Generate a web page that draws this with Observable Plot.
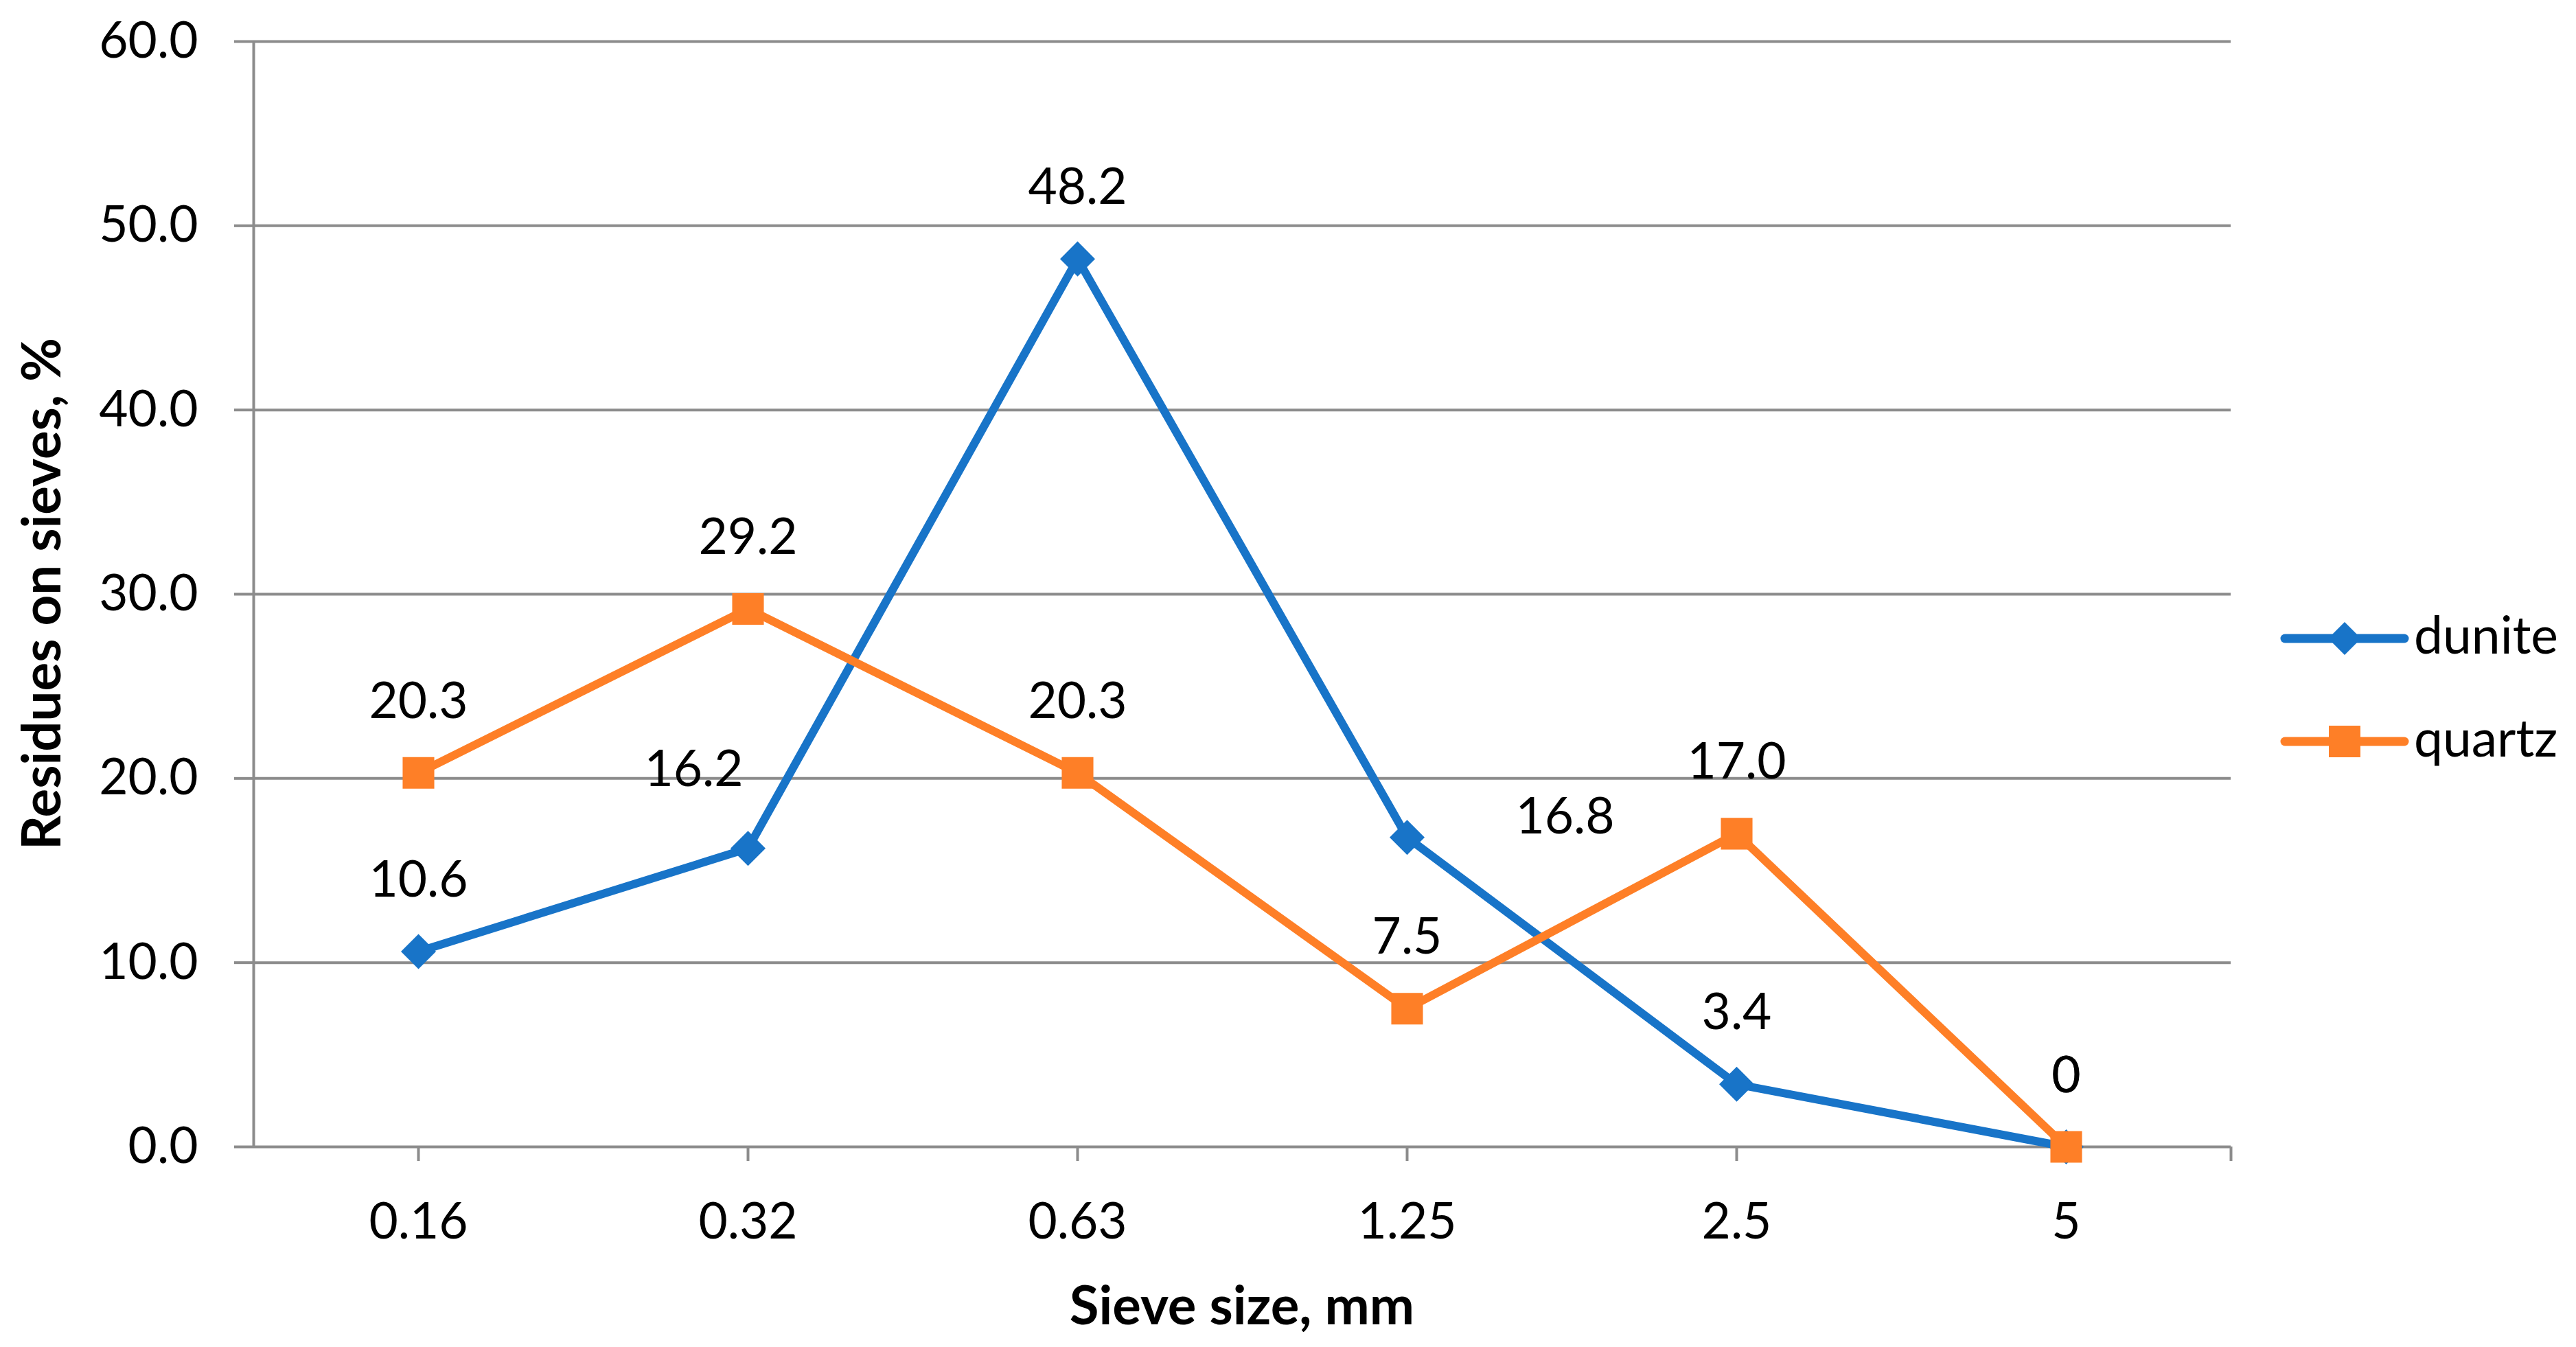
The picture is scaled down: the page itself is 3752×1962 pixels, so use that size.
<!DOCTYPE html>
<html><head><meta charset="utf-8">
<script src="https://cdn.jsdelivr.net/npm/d3@7"></script>
<script src="https://cdn.jsdelivr.net/npm/@observablehq/plot@0.6"></script>
<style>
html,body{margin:0;padding:0;background:#fff;}
#wrap{position:relative;width:3752px;height:1962px;font-family:Lato,"Open Sans",sans-serif;color:#000;overflow:hidden;}
#wrap svg.chart{position:absolute;left:0;top:0;}
.ttl{position:absolute;font-weight:700;font-size:78px;line-height:78px;white-space:nowrap;}
.leg{position:absolute;font-size:75px;line-height:75px;white-space:nowrap;}
</style></head><body><div id="wrap"></div>
<script>
// ---- data ----
const sieveSizes = ["0.16", "0.32", "0.63", "1.25", "2.5", "5"];
const dunite = [10.6, 16.2, 48.2, 16.8, 3.4, 0];
const quartz = [20.3, 29.2, 20.3, 7.5, 17.0, 0];
const duniteLabels = ["10.6", "16.2", "48.2", "16.8", "3.4", "0"];
const quartzLabels = ["20.3", "29.2", "20.3", "7.5", "17.0", "0"];
const duniteLabelPos = ["above", "left", "above", "right", "above", "above"];
const quartzLabelPos = ["above", "above", "above", "above", "above", "above"];
const yTicks = [0, 10, 20, 30, 40, 50, 60];
const seriesNames = ["dunite", "quartz"];
const seriesColors = ["#1874c8", "#fe7f27"];
const xTitle = "Sieve size, mm";
const yTitle = "Residues on sieves, %";

// ---- build tables ----
const rows = (vals, labels, pos, name) =>
  sieveSizes.map((s, i) => ({i, size: s, value: vals[i], label: labels[i], pos: pos[i], series: name}));
const dRows = rows(dunite, duniteLabels, duniteLabelPos, seriesNames[0]);
const qRows = rows(quartz, quartzLabels, quartzLabelPos, seriesNames[1]);
const allRows = dRows.concat(qRows);

const xDomain = [-0.5, sieveSizes.length - 0.5];
const xTicks = d3.range(sieveSizes.length).concat([xDomain[1]]);
const gridColor = "#8c8c8c";
const fs = 73;

const labelOffsets = {above: {dx: 0, dy: -80}, left: {dx: -79, dy: -91}, right: {dx: 230, dy: -6}};
const labelMarks = Object.keys(labelOffsets).map(p =>
  Plot.text(allRows.filter(d => d.pos === p), {
    x: "i", y: "value", text: "label", dx: labelOffsets[p].dx, dy: labelOffsets[p].dy,
    lineAnchor: "bottom", textAnchor: "middle", fontSize: fs, fill: "#000"
  }));

const chart = Plot.plot({
  width: 3752, height: 1962,
  marginLeft: 369, marginRight: 503, marginTop: 60, marginBottom: 292,
  style: {fontFamily: "Lato, 'Open Sans', sans-serif", fontSize: fs + "px", color: "#000", background: "#fff"},
  x: {type: "linear", domain: xDomain},
  y: {domain: [0, 60]},
  marks: [
    Plot.gridY(yTicks, {stroke: gridColor, strokeWidth: 4, strokeOpacity: 1}),
    Plot.ruleX([xDomain[0]], {stroke: gridColor, strokeWidth: 4}),
    Plot.axisY({ticks: yTicks, tickFormat: d => d.toFixed(1), tickSize: 28, tickPadding: 53,
      fontSize: fs, stroke: gridColor, strokeWidth: 4, fill: "#000", label: null}),
    Plot.axisX({ticks: xTicks, tickFormat: i => sieveSizes[i] ?? "", tickSize: 21, tickPadding: 61,
      fontSize: fs, stroke: gridColor, strokeWidth: 4, fill: "#000", label: null}),
    Plot.line(dRows, {x: "i", y: "value", stroke: seriesColors[0], strokeWidth: 12, strokeLinejoin: "round", strokeLinecap: "round"}),
    Plot.dot(dRows, {x: "i", y: "value", symbol: "diamond2", r: 23, fill: seriesColors[0], stroke: "none"}),
    Plot.line(qRows, {x: "i", y: "value", stroke: seriesColors[1], strokeWidth: 12, strokeLinejoin: "round", strokeLinecap: "round"}),
    Plot.dot(qRows, {x: "i", y: "value", symbol: "square", r: 26, fill: seriesColors[1], stroke: "none"}),
    ...labelMarks
  ]
});
chart.classList.add("chart");
const wrap = document.getElementById("wrap");
wrap.appendChild(chart);

// ---- titles ----
const xt = document.createElement("div");
xt.className = "ttl"; xt.textContent = xTitle;
xt.style.left = "1809px"; xt.style.top = (1929 - 0.887 * 78) + "px"; xt.style.transform = "translateX(-50%)";
wrap.appendChild(xt);
const yt = document.createElement("div");
yt.className = "ttl"; yt.textContent = yTitle;
yt.style.left = (88 - 0.387 * 78) + "px"; yt.style.top = "865px"; yt.style.transform = "translate(-50%,-50%) rotate(-90deg)";
wrap.appendChild(yt);

// ---- legend ----
const legTops = [930, 1080];
const symbols = ["diamond", "square"];
seriesNames.forEach((name, k) => {
  const cy = legTops[k];
  const svg = d3.create("svg").attr("width", 200).attr("height", 80)
    .style("position", "absolute").style("left", "3320px").style("top", (cy - 40) + "px");
  svg.append("line").attr("x1", 8).attr("x2", 182).attr("y1", 40).attr("y2", 40)
    .attr("stroke", seriesColors[k]).attr("stroke-width", 13).attr("stroke-linecap", "round");
  if (symbols[k] === "diamond") {
    svg.append("path").attr("d", "M95,16L119,40L95,64L71,40Z").attr("fill", seriesColors[k]);
  } else {
    svg.append("rect").attr("x", 72).attr("y", 17).attr("width", 46).attr("height", 46).attr("fill", seriesColors[k]);
  }
  wrap.appendChild(svg.node());
  const t = document.createElement("div");
  t.className = "leg"; t.textContent = name;
  t.style.left = "3516px"; t.style.top = (cy + 23 - 0.887 * 75) + "px";
  wrap.appendChild(t);
});
</script>
</body></html>
